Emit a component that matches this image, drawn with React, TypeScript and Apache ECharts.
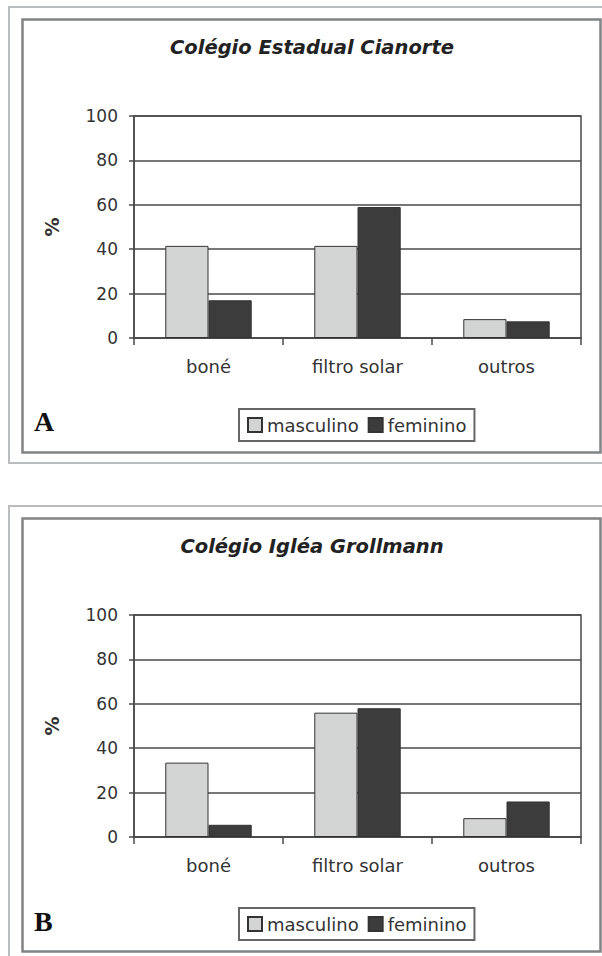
import React, { useEffect, useRef } from "react";
import * as echarts from "echarts";

const categories = ["boné", "filtro solar", "outros"];
const seriesNames = ["masculino", "feminino"];
const titleA = "Colégio Estadual Cianorte";
const titleB = "Colégio Igléa Grollmann";
const mascA = [41.5, 41.5, 8.5];
const femA = [17, 59, 7.5];
const mascB = [33.5, 56, 8.5];
const femB = [5.5, 58, 16];
const yTicks = { min: 0, max: 100, interval: 20 };

const FONT = "DejaVu Sans";
const MASC_COLOR = "#d3d5d5";
const FEM_COLOR = "#3c3c3c";
const LINE = "#4a4a4a";

export default function App() {
  const ref = useRef<HTMLDivElement>(null);
  useEffect(() => {
    if (!ref.current) return;
    const chart = echarts.init(ref.current, undefined, { renderer: "svg" });
    const offsets = [0, 499];
    const grids = offsets.map((o) => ({
      left: 134,
      right: 21,
      top: 116 + o,
      height: 222,
      show: true,
      borderColor: LINE,
      borderWidth: 1.5,
      backgroundColor: "#ffffff",
    }));
    const xAxes = offsets.map((_, i) => ({
      type: "category",
      gridIndex: i,
      data: categories,
      axisLine: { lineStyle: { color: LINE, width: 1.5 } },
      axisTick: { show: true, length: 7, lineStyle: { color: LINE, width: 1.5 } },
      axisLabel: { fontFamily: FONT, fontSize: 18, color: "#333", margin: 19 },
    }));
    const yAxes = offsets.map((_, i) => ({
      type: "value",
      gridIndex: i,
      min: yTicks.min,
      max: yTicks.max,
      interval: yTicks.interval,
      name: "%",
      nameLocation: "middle",
      nameRotate: 90,
      nameGap: 73,
      nameTextStyle: { fontFamily: FONT, fontSize: 19, fontWeight: "bold", color: "#333" },
      axisLine: { show: true, lineStyle: { color: LINE, width: 1.5 } },
      axisTick: { show: true, length: 5, lineStyle: { color: LINE, width: 1.5 } },
      axisLabel: { fontFamily: FONT, fontSize: 17, color: "#333", margin: 16 },
      splitLine: { show: true, lineStyle: { color: LINE, width: 1.5 } },
    }));
    const barBase = {
      type: "bar",
      barGap: "0%",
      barCategoryGap: "42%",
    };
    const mkSeries = (name: string, data: number[], color: string, i: number) => ({
      ...barBase,
      name,
      data,
      xAxisIndex: i,
      yAxisIndex: i,
      itemStyle: { color, borderColor: "#333", borderWidth: 1 },
    });
    const series = [
      mkSeries(seriesNames[0], mascA, MASC_COLOR, 0),
      mkSeries(seriesNames[1], femA, FEM_COLOR, 0),
      mkSeries(seriesNames[0], mascB, MASC_COLOR, 1),
      mkSeries(seriesNames[1], femB, FEM_COLOR, 1),
    ];
    const legends = offsets.map((o) => ({
      data: seriesNames,
      left: 239,
      top: 409 + o,
      orient: "horizontal",
      itemWidth: 14,
      itemHeight: 14,
      itemGap: 9,
      icon: "rect",
      selectedMode: false,
      borderColor: "#666",
      borderWidth: 2,
      padding: [7, 8],
      textStyle: { fontFamily: FONT, fontSize: 18, color: "#333" },
    }));
    const titles = [titleA, titleB];
    const letters = ["A", "B"];
    const graphic: any[] = [];
    offsets.forEach((o, i) => {
      graphic.push({
        type: "rect",
        shape: { x: 9, y: 7 + o, width: 610, height: 456 },
        style: { fill: "none", stroke: "#b9bdbd", lineWidth: 2 },
        silent: true,
      });
      graphic.push({
        type: "rect",
        shape: { x: 22.5, y: 19.5 + o, width: 578, height: 433 },
        style: { fill: "none", stroke: "#808484", lineWidth: 2.5 },
        silent: true,
      });
      graphic.push({
        type: "text",
        x: 312,
        y: 47 + o,
        style: {
          text: titles[i],
          fontFamily: FONT,
          fontSize: 19.5,
          fontWeight: "bold",
          fontStyle: "italic",
          fill: "#222",
          align: "center",
          verticalAlign: "middle",
        },
      });
      graphic.push({
        type: "text",
        x: 34,
        y: 421 + o + (i === 1 ? 1 : 0),
        style: {
          text: letters[i],
          fontFamily: "Liberation Serif",
          fontSize: 28,
          fontWeight: "bold",
          fill: "#111",
          align: "left",
          verticalAlign: "middle",
        },
      });
    });
    chart.setOption({
      animation: false,
      backgroundColor: "#ffffff",
      grid: grids,
      xAxis: xAxes,
      yAxis: yAxes,
      legend: legends,
      series,
      graphic,
    });
    return () => chart.dispose();
  }, []);
  return (
    <div
      ref={ref}
      style={{ position: "absolute", left: 0, top: 0, width: 602, height: 956, background: "#fff" }}
    />
  );
}
